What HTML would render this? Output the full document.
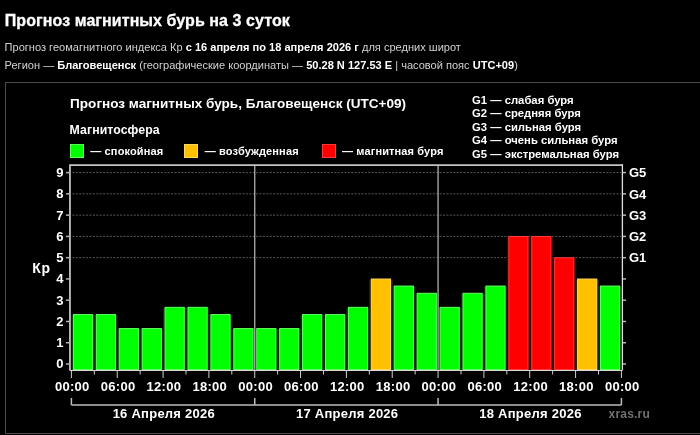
<!DOCTYPE html><html><head><meta charset="utf-8"><style>
html,body{margin:0;padding:0;background:#000;width:700px;height:435px;overflow:hidden}
svg{position:absolute;left:0;top:0;will-change:transform}
text{font-family:"Liberation Sans",Arial,sans-serif}
.tt{stroke:#fff;stroke-width:0.3px}
</style></head><body>
<svg width="700" height="435" viewBox="0 0 700 435">
<text class="tt" x="4.8" y="26.3" font-size="16" letter-spacing="0.07" font-weight="bold" fill="#fff">Прогноз магнитных бурь на 3 суток</text>
<text x="4.6" y="50.6" font-size="11.06" fill="#d2d2d2">Прогноз геомагнитного индекса Кр <tspan font-weight="bold" fill="#fff">с 16 апреля по 18 апреля 2026 г</tspan> для средних широт</text>
<text x="4.6" y="69.1" font-size="11.06" fill="#d2d2d2">Регион — <tspan font-weight="bold" fill="#fff">Благовещенск</tspan> (географические координаты — <tspan font-weight="bold" fill="#fff">50.28 N 127.53 E</tspan> | часовой пояс <tspan font-weight="bold" fill="#fff">UTC+09</tspan>)</text>
<path d="M705 82.5H5.5V433.5H705" fill="none" stroke="#4c4c4c" stroke-width="1"/>
<text x="70.1" y="108" font-size="13.55" font-weight="bold" fill="#fff">Прогноз магнитных бурь, Благовещенск (UTC+09)</text>
<text x="69.6" y="134.3" font-size="12.3" letter-spacing="0.08" font-weight="bold" fill="#fff">Магнитосфера</text>
<rect x="70.5" y="144.5" width="13" height="13" fill="#00ff00" stroke="#60ff60" stroke-width="1"/>
<text x="90.3" y="154.5" font-size="11" letter-spacing="0.13" font-weight="bold" fill="#fff">— спокойная</text>
<rect x="184.5" y="144.5" width="13" height="13" fill="#ffc000" stroke="#ffd860" stroke-width="1"/>
<text x="204.8" y="154.5" font-size="11" letter-spacing="0.13" font-weight="bold" fill="#fff">— возбужденная</text>
<rect x="322.5" y="144.5" width="13" height="13" fill="#ff0000" stroke="#ff3a3a" stroke-width="1"/>
<text x="342" y="154.5" font-size="11" letter-spacing="0.13" font-weight="bold" fill="#fff">— магнитная буря</text>
<text x="472" y="103.80" font-size="11.3" font-weight="bold" fill="#fff">G1 — слабая буря</text>
<text x="472" y="117.25" font-size="11.3" font-weight="bold" fill="#fff">G2 — средняя буря</text>
<text x="472" y="130.70" font-size="11.3" font-weight="bold" fill="#fff">G3 — сильная буря</text>
<text x="472" y="144.15" font-size="11.3" font-weight="bold" fill="#fff">G4 — очень сильная буря</text>
<text x="472" y="157.60" font-size="11.3" font-weight="bold" fill="#fff">G5 — экстремальная буря</text>
<line x1="72.5" x2="621" y1="257.67" y2="257.67" stroke="#5a5a5a" stroke-width="1" stroke-dasharray="2 1.4"/>
<line x1="72.5" x2="621" y1="236.40" y2="236.40" stroke="#5a5a5a" stroke-width="1" stroke-dasharray="2 1.4"/>
<line x1="72.5" x2="621" y1="215.13" y2="215.13" stroke="#5a5a5a" stroke-width="1" stroke-dasharray="2 1.4"/>
<line x1="72.5" x2="621" y1="193.86" y2="193.86" stroke="#5a5a5a" stroke-width="1" stroke-dasharray="2 1.4"/>
<line x1="72.5" x2="621" y1="172.60" y2="172.60" stroke="#5a5a5a" stroke-width="1" stroke-dasharray="2 1.4"/>
<rect x="71.30" y="315.05" width="23.40" height="54.95" fill="#003200"/>
<rect x="94.22" y="315.05" width="23.40" height="54.95" fill="#003200"/>
<rect x="117.13" y="329.08" width="23.40" height="40.92" fill="#003200"/>
<rect x="140.05" y="329.08" width="23.40" height="40.92" fill="#003200"/>
<rect x="162.97" y="307.82" width="23.40" height="62.18" fill="#003200"/>
<rect x="185.89" y="307.82" width="23.40" height="62.18" fill="#003200"/>
<rect x="208.80" y="315.05" width="23.40" height="54.95" fill="#003200"/>
<rect x="231.72" y="329.08" width="23.40" height="40.92" fill="#003200"/>
<rect x="254.64" y="329.08" width="23.40" height="40.92" fill="#003200"/>
<rect x="277.55" y="329.08" width="23.40" height="40.92" fill="#003200"/>
<rect x="300.47" y="315.05" width="23.40" height="54.95" fill="#003200"/>
<rect x="323.39" y="315.05" width="23.40" height="54.95" fill="#003200"/>
<rect x="346.30" y="307.82" width="23.40" height="62.18" fill="#003200"/>
<rect x="369.22" y="279.53" width="23.40" height="90.47" fill="#2e2400"/>
<rect x="392.14" y="286.55" width="23.40" height="83.45" fill="#003200"/>
<rect x="415.05" y="293.78" width="23.40" height="76.22" fill="#003200"/>
<rect x="437.97" y="307.82" width="23.40" height="62.18" fill="#003200"/>
<rect x="460.89" y="293.78" width="23.40" height="76.22" fill="#003200"/>
<rect x="483.81" y="286.55" width="23.40" height="83.45" fill="#003200"/>
<rect x="506.72" y="237.00" width="23.40" height="133.00" fill="#3a0000"/>
<rect x="529.64" y="237.00" width="23.40" height="133.00" fill="#3a0000"/>
<rect x="552.56" y="258.27" width="23.40" height="111.73" fill="#3a0000"/>
<rect x="575.47" y="279.53" width="23.40" height="90.47" fill="#2e2400"/>
<rect x="598.39" y="286.55" width="23.40" height="83.45" fill="#003200"/>
<rect x="73.40" y="314.55" width="19.20" height="54.95" fill="#00ff00" stroke="#60ff60" stroke-width="1"/>
<rect x="96.32" y="314.55" width="19.20" height="54.95" fill="#00ff00" stroke="#60ff60" stroke-width="1"/>
<rect x="119.23" y="328.58" width="19.20" height="40.92" fill="#00ff00" stroke="#60ff60" stroke-width="1"/>
<rect x="142.15" y="328.58" width="19.20" height="40.92" fill="#00ff00" stroke="#60ff60" stroke-width="1"/>
<rect x="165.07" y="307.32" width="19.20" height="62.18" fill="#00ff00" stroke="#60ff60" stroke-width="1"/>
<rect x="187.99" y="307.32" width="19.20" height="62.18" fill="#00ff00" stroke="#60ff60" stroke-width="1"/>
<rect x="210.90" y="314.55" width="19.20" height="54.95" fill="#00ff00" stroke="#60ff60" stroke-width="1"/>
<rect x="233.82" y="328.58" width="19.20" height="40.92" fill="#00ff00" stroke="#60ff60" stroke-width="1"/>
<rect x="256.74" y="328.58" width="19.20" height="40.92" fill="#00ff00" stroke="#60ff60" stroke-width="1"/>
<rect x="279.65" y="328.58" width="19.20" height="40.92" fill="#00ff00" stroke="#60ff60" stroke-width="1"/>
<rect x="302.57" y="314.55" width="19.20" height="54.95" fill="#00ff00" stroke="#60ff60" stroke-width="1"/>
<rect x="325.49" y="314.55" width="19.20" height="54.95" fill="#00ff00" stroke="#60ff60" stroke-width="1"/>
<rect x="348.40" y="307.32" width="19.20" height="62.18" fill="#00ff00" stroke="#60ff60" stroke-width="1"/>
<rect x="371.32" y="279.03" width="19.20" height="90.47" fill="#ffc000" stroke="#ffd860" stroke-width="1"/>
<rect x="394.24" y="286.05" width="19.20" height="83.45" fill="#00ff00" stroke="#60ff60" stroke-width="1"/>
<rect x="417.15" y="293.28" width="19.20" height="76.22" fill="#00ff00" stroke="#60ff60" stroke-width="1"/>
<rect x="440.07" y="307.32" width="19.20" height="62.18" fill="#00ff00" stroke="#60ff60" stroke-width="1"/>
<rect x="462.99" y="293.28" width="19.20" height="76.22" fill="#00ff00" stroke="#60ff60" stroke-width="1"/>
<rect x="485.91" y="286.05" width="19.20" height="83.45" fill="#00ff00" stroke="#60ff60" stroke-width="1"/>
<rect x="508.82" y="236.50" width="19.20" height="133.00" fill="#ff0000" stroke="#ff3a3a" stroke-width="1"/>
<rect x="531.74" y="236.50" width="19.20" height="133.00" fill="#ff0000" stroke="#ff3a3a" stroke-width="1"/>
<rect x="554.66" y="257.77" width="19.20" height="111.73" fill="#ff0000" stroke="#ff3a3a" stroke-width="1"/>
<rect x="577.57" y="279.03" width="19.20" height="90.47" fill="#ffc000" stroke="#ffd860" stroke-width="1"/>
<rect x="600.49" y="286.05" width="19.20" height="83.45" fill="#00ff00" stroke="#60ff60" stroke-width="1"/>
<line x1="254.74" x2="254.74" y1="166" y2="370" stroke="#b0b0b0" stroke-width="1.3"/>
<line x1="438.07" x2="438.07" y1="166" y2="370" stroke="#b0b0b0" stroke-width="1.3"/>
<path d="M69.95 370.5V165H622.4" fill="none" stroke="#c4c4c4" stroke-width="1.75"/>
<line x1="622.4" x2="622.4" y1="164.2" y2="370.5" stroke="#e0e0e0" stroke-width="1.3"/>
<line x1="70" x2="622" y1="370.5" y2="370.5" stroke="#d8d8d8" stroke-width="1"/>
<line x1="66" x2="69" y1="364.00" y2="364.00" stroke="#b4b4b4" stroke-width="1.5"/>
<line x1="623" x2="626" y1="364.00" y2="364.00" stroke="#b4b4b4" stroke-width="1.5"/>
<text x="63.5" y="368.40" font-size="13" font-weight="bold" fill="#fff" text-anchor="end">0</text>
<line x1="66" x2="69" y1="342.73" y2="342.73" stroke="#b4b4b4" stroke-width="1.5"/>
<line x1="623" x2="626" y1="342.73" y2="342.73" stroke="#b4b4b4" stroke-width="1.5"/>
<text x="63.5" y="347.13" font-size="13" font-weight="bold" fill="#fff" text-anchor="end">1</text>
<line x1="66" x2="69" y1="321.47" y2="321.47" stroke="#b4b4b4" stroke-width="1.5"/>
<line x1="623" x2="626" y1="321.47" y2="321.47" stroke="#b4b4b4" stroke-width="1.5"/>
<text x="63.5" y="325.87" font-size="13" font-weight="bold" fill="#fff" text-anchor="end">2</text>
<line x1="66" x2="69" y1="300.20" y2="300.20" stroke="#b4b4b4" stroke-width="1.5"/>
<line x1="623" x2="626" y1="300.20" y2="300.20" stroke="#b4b4b4" stroke-width="1.5"/>
<text x="63.5" y="304.60" font-size="13" font-weight="bold" fill="#fff" text-anchor="end">3</text>
<line x1="66" x2="69" y1="278.93" y2="278.93" stroke="#b4b4b4" stroke-width="1.5"/>
<line x1="623" x2="626" y1="278.93" y2="278.93" stroke="#b4b4b4" stroke-width="1.5"/>
<text x="63.5" y="283.33" font-size="13" font-weight="bold" fill="#fff" text-anchor="end">4</text>
<line x1="66" x2="69" y1="257.67" y2="257.67" stroke="#b4b4b4" stroke-width="1.5"/>
<line x1="623" x2="626" y1="257.67" y2="257.67" stroke="#b4b4b4" stroke-width="1.5"/>
<text x="63.5" y="262.06" font-size="13" font-weight="bold" fill="#fff" text-anchor="end">5</text>
<line x1="66" x2="69" y1="236.40" y2="236.40" stroke="#b4b4b4" stroke-width="1.5"/>
<line x1="623" x2="626" y1="236.40" y2="236.40" stroke="#b4b4b4" stroke-width="1.5"/>
<text x="63.5" y="240.80" font-size="13" font-weight="bold" fill="#fff" text-anchor="end">6</text>
<line x1="66" x2="69" y1="215.13" y2="215.13" stroke="#b4b4b4" stroke-width="1.5"/>
<line x1="623" x2="626" y1="215.13" y2="215.13" stroke="#b4b4b4" stroke-width="1.5"/>
<text x="63.5" y="219.53" font-size="13" font-weight="bold" fill="#fff" text-anchor="end">7</text>
<line x1="66" x2="69" y1="193.86" y2="193.86" stroke="#b4b4b4" stroke-width="1.5"/>
<line x1="623" x2="626" y1="193.86" y2="193.86" stroke="#b4b4b4" stroke-width="1.5"/>
<text x="63.5" y="198.26" font-size="13" font-weight="bold" fill="#fff" text-anchor="end">8</text>
<line x1="66" x2="69" y1="172.60" y2="172.60" stroke="#b4b4b4" stroke-width="1.5"/>
<line x1="623" x2="626" y1="172.60" y2="172.60" stroke="#b4b4b4" stroke-width="1.5"/>
<text x="63.5" y="177.00" font-size="13" font-weight="bold" fill="#fff" text-anchor="end">9</text>
<text x="629" y="262.47" font-size="13" font-weight="bold" fill="#fff">G1</text>
<text x="629" y="241.20" font-size="13" font-weight="bold" fill="#fff">G2</text>
<text x="629" y="219.93" font-size="13" font-weight="bold" fill="#fff">G3</text>
<text x="629" y="198.66" font-size="13" font-weight="bold" fill="#fff">G4</text>
<text x="629" y="177.40" font-size="13" font-weight="bold" fill="#fff">G5</text>
<text x="32.2" y="272.9" font-size="14" letter-spacing="0.8" font-weight="bold" fill="#fff">Кр</text>
<line x1="71.40" x2="71.40" y1="371" y2="378" stroke="#d0d0d0" stroke-width="1"/>
<line x1="94.32" x2="94.32" y1="371" y2="374.5" stroke="#d0d0d0" stroke-width="1"/>
<line x1="117.23" x2="117.23" y1="371" y2="378" stroke="#d0d0d0" stroke-width="1"/>
<line x1="140.15" x2="140.15" y1="371" y2="374.5" stroke="#d0d0d0" stroke-width="1"/>
<line x1="163.07" x2="163.07" y1="371" y2="378" stroke="#d0d0d0" stroke-width="1"/>
<line x1="185.99" x2="185.99" y1="371" y2="374.5" stroke="#d0d0d0" stroke-width="1"/>
<line x1="208.90" x2="208.90" y1="371" y2="378" stroke="#d0d0d0" stroke-width="1"/>
<line x1="231.82" x2="231.82" y1="371" y2="374.5" stroke="#d0d0d0" stroke-width="1"/>
<line x1="254.74" x2="254.74" y1="371" y2="378" stroke="#d0d0d0" stroke-width="1"/>
<line x1="277.65" x2="277.65" y1="371" y2="374.5" stroke="#d0d0d0" stroke-width="1"/>
<line x1="300.57" x2="300.57" y1="371" y2="378" stroke="#d0d0d0" stroke-width="1"/>
<line x1="323.49" x2="323.49" y1="371" y2="374.5" stroke="#d0d0d0" stroke-width="1"/>
<line x1="346.40" x2="346.40" y1="371" y2="378" stroke="#d0d0d0" stroke-width="1"/>
<line x1="369.32" x2="369.32" y1="371" y2="374.5" stroke="#d0d0d0" stroke-width="1"/>
<line x1="392.24" x2="392.24" y1="371" y2="378" stroke="#d0d0d0" stroke-width="1"/>
<line x1="415.15" x2="415.15" y1="371" y2="374.5" stroke="#d0d0d0" stroke-width="1"/>
<line x1="438.07" x2="438.07" y1="371" y2="378" stroke="#d0d0d0" stroke-width="1"/>
<line x1="460.99" x2="460.99" y1="371" y2="374.5" stroke="#d0d0d0" stroke-width="1"/>
<line x1="483.91" x2="483.91" y1="371" y2="378" stroke="#d0d0d0" stroke-width="1"/>
<line x1="506.82" x2="506.82" y1="371" y2="374.5" stroke="#d0d0d0" stroke-width="1"/>
<line x1="529.74" x2="529.74" y1="371" y2="378" stroke="#d0d0d0" stroke-width="1"/>
<line x1="552.66" x2="552.66" y1="371" y2="374.5" stroke="#d0d0d0" stroke-width="1"/>
<line x1="575.57" x2="575.57" y1="371" y2="378" stroke="#d0d0d0" stroke-width="1"/>
<line x1="598.49" x2="598.49" y1="371" y2="374.5" stroke="#d0d0d0" stroke-width="1"/>
<line x1="621.41" x2="621.41" y1="371" y2="378" stroke="#d0d0d0" stroke-width="1"/>
<text x="72.25" y="391" font-size="13" letter-spacing="0.3" font-weight="bold" fill="#fff" text-anchor="middle">00:00</text>
<text x="118.08" y="391" font-size="13" letter-spacing="0.3" font-weight="bold" fill="#fff" text-anchor="middle">06:00</text>
<text x="163.92" y="391" font-size="13" letter-spacing="0.3" font-weight="bold" fill="#fff" text-anchor="middle">12:00</text>
<text x="209.75" y="391" font-size="13" letter-spacing="0.3" font-weight="bold" fill="#fff" text-anchor="middle">18:00</text>
<text x="255.59" y="391" font-size="13" letter-spacing="0.3" font-weight="bold" fill="#fff" text-anchor="middle">00:00</text>
<text x="301.42" y="391" font-size="13" letter-spacing="0.3" font-weight="bold" fill="#fff" text-anchor="middle">06:00</text>
<text x="347.25" y="391" font-size="13" letter-spacing="0.3" font-weight="bold" fill="#fff" text-anchor="middle">12:00</text>
<text x="393.09" y="391" font-size="13" letter-spacing="0.3" font-weight="bold" fill="#fff" text-anchor="middle">18:00</text>
<text x="438.92" y="391" font-size="13" letter-spacing="0.3" font-weight="bold" fill="#fff" text-anchor="middle">00:00</text>
<text x="484.76" y="391" font-size="13" letter-spacing="0.3" font-weight="bold" fill="#fff" text-anchor="middle">06:00</text>
<text x="530.59" y="391" font-size="13" letter-spacing="0.3" font-weight="bold" fill="#fff" text-anchor="middle">12:00</text>
<text x="576.42" y="391" font-size="13" letter-spacing="0.3" font-weight="bold" fill="#fff" text-anchor="middle">18:00</text>
<text x="622.26" y="391" font-size="13" letter-spacing="0.3" font-weight="bold" fill="#fff" text-anchor="middle">00:00</text>
<line x1="71.40" x2="621.41" y1="405" y2="405" stroke="#bcbcbc" stroke-width="1.5"/>
<line x1="71.40" x2="71.40" y1="398" y2="405" stroke="#bcbcbc" stroke-width="1.5"/>
<line x1="254.74" x2="254.74" y1="398" y2="405" stroke="#bcbcbc" stroke-width="1.5"/>
<line x1="438.07" x2="438.07" y1="398" y2="405" stroke="#bcbcbc" stroke-width="1.5"/>
<line x1="621.41" x2="621.41" y1="398" y2="405" stroke="#bcbcbc" stroke-width="1.5"/>
<text x="163.82" y="418.3" font-size="13" letter-spacing="0.25" font-weight="bold" fill="#fff" text-anchor="middle">16 Апреля 2026</text>
<text x="347.15" y="418.3" font-size="13" letter-spacing="0.25" font-weight="bold" fill="#fff" text-anchor="middle">17 Апреля 2026</text>
<text x="530.49" y="418.3" font-size="13" letter-spacing="0.25" font-weight="bold" fill="#fff" text-anchor="middle">18 Апреля 2026</text>
<text x="608.6" y="418.4" font-size="12" letter-spacing="0.2" font-weight="bold" fill="#707070">xras.ru</text>
</svg></body></html>
